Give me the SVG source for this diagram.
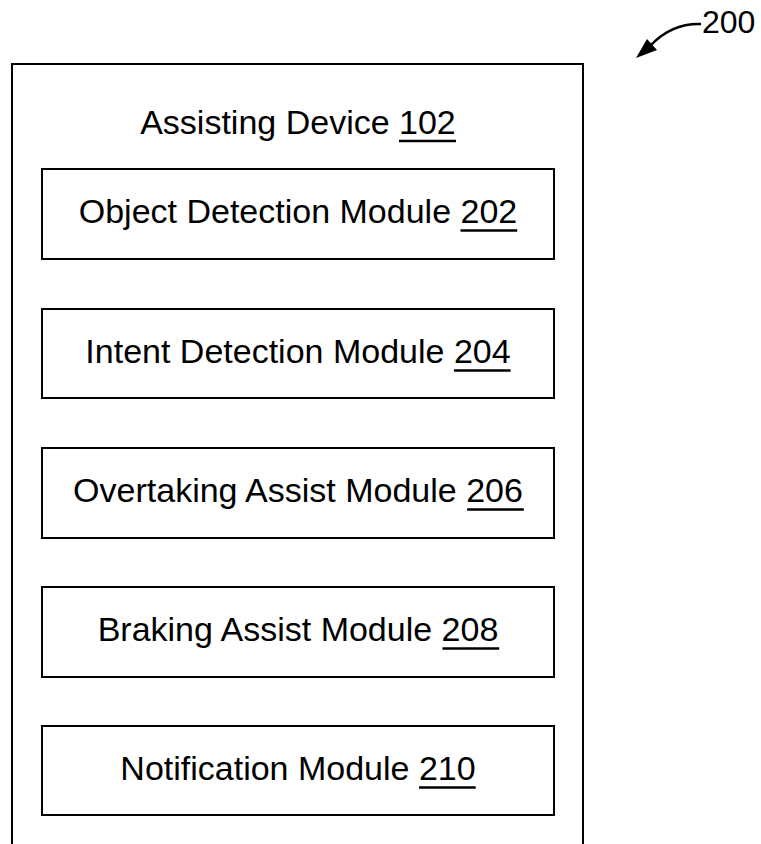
<svg xmlns="http://www.w3.org/2000/svg" width="761" height="844" viewBox="0 0 761 844">
<style>
.box{fill:#fff;stroke:#000;stroke-width:2}
.t{font-family:"Liberation Sans",Arial,sans-serif;font-size:34px;fill:#000;text-anchor:middle}
.ul{stroke:#000;stroke-width:2.5}
</style>
<rect width="761" height="844" fill="#fff"/>
<g id="assisting-device">
<path d="M12,844 V64 H583 V844" fill="none" stroke="#000" stroke-width="2"/>
<text class="t" x="298" y="134">Assisting Device 102</text>
<line class="ul" x1="399" y1="141" x2="456" y2="141"/>
</g>
<g id="m202"><rect class="box" x="42" y="169" width="512" height="90"/><text class="t" x="298" y="223">Object Detection Module 202</text><line class="ul" x1="460.5" y1="230.5" x2="517.2" y2="230.5"/></g>
<g id="m204"><rect class="box" x="42" y="309" width="512" height="89"/><text class="t" x="298" y="363">Intent Detection Module 204</text><line class="ul" x1="453.9" y1="370.5" x2="510.6" y2="370.5"/></g>
<g id="m206"><rect class="box" x="42" y="448" width="512" height="90"/><text class="t" x="298" y="502">Overtaking Assist Module 206</text><line class="ul" x1="467.1" y1="509.5" x2="523.8" y2="509.5"/></g>
<g id="m208"><rect class="box" x="42" y="587" width="512" height="90"/><text class="t" x="298" y="641">Braking Assist Module 208</text><line class="ul" x1="442.5" y1="648.5" x2="499.2" y2="648.5"/></g>
<g id="m210"><rect class="box" x="42" y="726" width="512" height="89"/><text class="t" x="298" y="780">Notification Module 210</text><line class="ul" x1="419" y1="787.5" x2="475.7" y2="787.5"/></g>
<g id="connectors">
<path d="M701,24 Q672,23 651,45" fill="none" stroke="#000" stroke-width="2.5"/>
<polygon points="636,58 647,39 657,50" fill="#000"/>
</g>
<g id="ref200"><text x="702" y="33" style="font-family:'Liberation Sans',Arial,sans-serif;font-size:32px">200</text></g>
</svg>
